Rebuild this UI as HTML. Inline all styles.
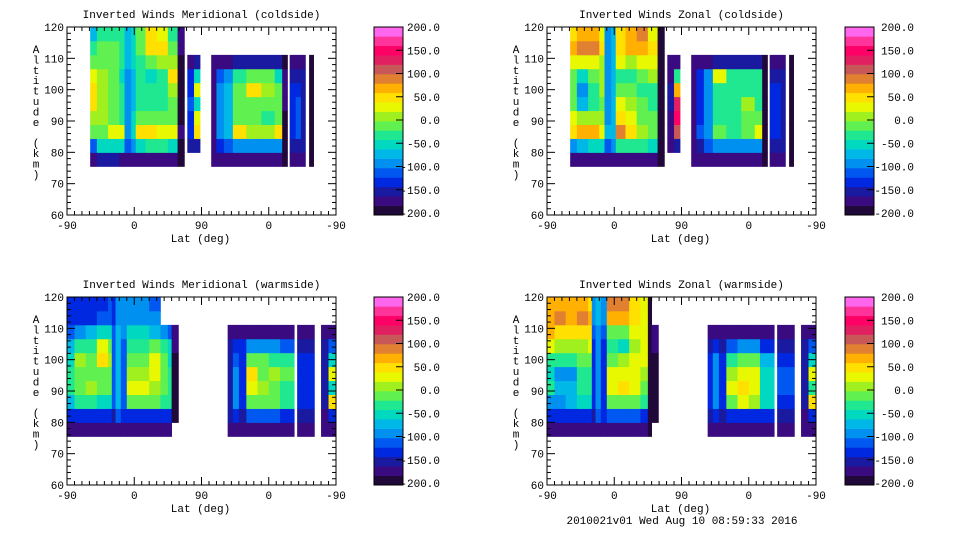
<!DOCTYPE html>
<html><head><meta charset="utf-8">
<style>
html,body{margin:0;padding:0;background:#fff;}
svg{display:block;}
text{font-family:"Liberation Mono","DejaVu Sans Mono",monospace;font-size:11px;fill:#000;}
</style></head>
<body>
<svg id="fig" width="960" height="540" viewBox="0 0 960 540" xmlns="http://www.w3.org/2000/svg">
<text x="682" y="524" text-anchor="middle">2010021v01 Wed Aug 10 08:59:33 2016</text>
</svg>
<script>
// ---- colour scale ----
const levelColors = ["#200838","#3a0a80","#1a1aa0","#0028e0","#0058f0","#0090f0","#00b8e8","#00d8c0","#20e890","#60f050","#a0f020","#e8f800","#ffe000","#ffb000","#e08030","#c85858","#e02060","#ff0066","#ff3399","#ff66ee"];
const colorbarLabels = ["200.0","150.0","100.0","50.0","0.0","-50.0","-100.0","-150.0","-200.0"];
const xTickLabels = ["-90","0","90","0","-90"];
const yTickLabels = ["60","70","80","90","100","110","120"];
const altCenters = [75,80,85,90,95,100,105,110,115,120];

const titles = ["Inverted Winds Meridional (coldside)","Inverted Winds Zonal (coldside)","Inverted Winds Meridional (warmside)","Inverted Winds Zonal (warmside)"];

// column edges (track units 0..360) and values per column (alt 75..120)
const colEdgesTop = [31,40,55,70,77,86,92,105,120,135,148,157,161,170,178,193,200,210,222,240,260,278,288,295,298,306,313,319,324,330];
const N = null;
const merCold = [
[-170,-120,-20,10,40,40,20,-20,-40,-80],
[-160,-60,-10,0,10,10,0,-10,-20,-30],
[-160,-50,30,-10,-10,-20,-20,-10,-20,-30],
[-170,-60,20,-30,-40,-40,-50,-40,-40,-40],
[-180,-120,-100,-90,-90,-90,-90,-80,-80,-80],
[-170,-100,-60,-60,-70,-70,-70,-60,-60,-60],
[-170,-50,40,-20,-30,-40,-40,-30,-20,-10],
[-170,-40,40,-10,-30,-40,-50,-10,40,40],
[-170,-40,30,-10,-30,-30,-30,10,50,30],
[-170,-60,20,-10,-20,10,40,10,-20,-40],
[-190,-190,-180,-190,-190,-190,-190,-190,-180,-180],
[N,N,N,N,N,N,N,N,N,N],
[N,-160,-140,-130,-120,-130,-140,-170,N,N],
[N,-160,40,30,-60,30,-60,-160,N,N],
[N,N,N,N,N,N,N,N,N,N],
[-180,-170,-170,-170,-170,-170,-170,-180,N,N],
[-180,-140,-100,-100,-100,-100,-110,-170,N,N],
[-180,-120,-80,-80,-80,-80,-90,-170,N,N],
[-180,-100,40,-10,-20,-20,-40,-160,N,N],
[-180,-100,10,-20,-10,40,-20,-160,N,N],
[-180,-100,0,-30,-20,0,-20,-160,N,N],
[-180,-100,40,-20,-10,-20,-60,-160,N,N],
[-190,-190,-190,-190,-180,-180,-180,-190,N,N],
[N,N,N,N,N,N,N,N,N,N],
[-180,-150,-140,-140,-140,-140,-150,-180,N,N],
[-180,-150,-120,-120,-120,-130,-150,-180,N,N],
[-180,-160,-160,-150,-150,-150,-160,-180,N,N],
[N,N,N,N,N,N,N,N,N,N],
[-190,-190,-190,-190,-190,-190,-190,-190,N,N]
];
const zonCold = [
[-170,-100,40,20,-20,-20,-10,20,60,40],
[-170,-80,70,0,-80,-90,-60,20,80,60],
[-170,-60,60,10,-40,-40,-20,20,90,60],
[-170,-60,30,0,-10,0,0,10,40,20],
[-180,-120,-80,-90,-90,-90,-90,-90,-90,-90],
[-170,-100,-80,-80,-80,-80,-80,-80,-80,-80],
[-170,-40,80,40,20,-20,-30,20,40,40],
[-170,-40,40,20,0,-20,-30,0,60,60],
[-170,-40,10,-20,-20,-30,-20,20,70,80],
[-170,-60,-20,-20,-30,-30,0,30,40,20],
[-190,-190,-190,-190,-190,-190,-190,-190,-190,-190],
[N,N,N,N,N,N,N,N,N,N],
[N,-180,-170,-170,-160,-160,-170,-180,N,N],
[N,-160,100,150,130,60,-40,-170,N,N],
[N,N,N,N,N,N,N,N,N,N],
[-180,-170,-170,-170,-170,-170,-170,-180,N,N],
[-180,-150,-120,-130,-130,-130,-140,-170,N,N],
[-180,-120,-90,-100,-100,-100,-100,-170,N,N],
[-180,-100,-20,-40,-40,-30,20,-160,N,N],
[-180,-100,-30,-30,-30,-30,-30,-160,N,N],
[-180,-100,-20,-10,0,-30,-30,-160,N,N],
[-180,-100,20,-10,-30,-30,-40,-160,N,N],
[-190,-190,-190,-190,-190,-190,-190,-190,N,N],
[N,N,N,N,N,N,N,N,N,N],
[-180,-150,-140,-140,-140,-140,-150,-180,N,N],
[-180,-160,-140,-140,-140,-140,-160,-180,N,N],
[-180,-160,-160,-160,-160,-160,-160,-180,N,N],
[N,N,N,N,N,N,N,N,N,N],
[-190,-190,-190,-190,-190,-190,-190,-190,N,N]
];
const colEdgesBot = [0,10,25,40,55,60,65,72,80,95,110,125,135,140,149,215,222,230,240,255,270,285,304,308,331,340,350,360];
const merWarm = [
[-180,-140,-80,-40,-40,-60,-80,-120,-140,-140],
[-180,-140,-40,-20,-10,0,-40,-100,-140,-140],
[-180,-130,-40,10,-10,-20,-30,-80,-140,-140],
[-180,-130,-50,-10,-10,40,30,-60,-120,-130],
[-180,-130,-60,-20,-20,10,-20,-60,-110,-120],
[-180,-150,-120,-120,-120,-120,-120,-120,-130,-130],
[-180,-120,-80,-80,-80,-80,-80,-80,-90,-100],
[-180,-140,-120,-120,-120,-120,-120,-100,-100,-100],
[-180,-130,-10,20,0,-10,-30,-60,-90,-100],
[-180,-130,-10,30,10,-10,-30,-60,-90,-100],
[-180,-130,-20,0,20,30,-20,-70,-100,-110],
[-180,-130,-30,-20,-20,-20,-40,-90,N,N],
[-180,-140,-40,-40,-40,-50,-60,-120,N,N],
[N,-190,-190,-190,-190,-190,-180,-180,N,N],
[N,N,N,N,N,N,N,N,N,N],
[-180,-160,-150,-150,-150,-150,-160,-180,N,N],
[-180,-140,-100,-100,-100,-110,-140,-180,N,N],
[-180,-150,-130,-130,-130,-130,-140,-180,N,N],
[-180,-120,-10,20,40,-20,-100,-170,N,N],
[-180,-120,-10,0,-10,-20,-100,-170,N,N],
[-180,-120,-20,-10,0,-30,-100,-170,N,N],
[-180,-130,-40,-30,-10,-40,-110,-170,N,N],
[N,N,N,N,N,N,N,N,N,N],
[-180,-160,-140,-130,-130,-130,-150,-180,N,N],
[N,N,N,N,N,N,N,N,N,N],
[-180,-170,-160,-160,-150,-160,-160,-180,N,N],
[-180,-130,40,-60,30,-60,-120,-180,N,N]
];
const zonWarm = [
[-180,-130,-100,-40,-60,-30,20,60,70,60],
[-180,-130,-100,-70,-90,-40,0,50,80,60],
[-180,-130,-80,-70,-90,-40,0,40,70,60],
[-180,-130,-60,-30,-40,-20,0,40,80,60],
[-180,-130,-60,-30,-30,-20,20,40,60,50],
[-180,-150,-130,-130,-130,-130,-130,-120,-100,-100],
[-180,-110,-100,-100,-100,-100,-100,-90,-80,-80],
[-180,-140,-130,-130,-130,-130,-130,-110,-100,-100],
[-180,-120,-20,30,30,-10,-40,-20,60,80],
[-180,-120,-20,40,20,0,-60,-20,60,90],
[-180,-120,-20,20,20,20,10,20,40,50],
[-180,-130,-30,-10,10,20,20,30,30,20],
[-190,-190,-190,-190,-190,-190,-190,-190,-190,-190],
[N,-190,-190,-190,-190,-190,-180,-180,N,N],
[N,N,N,N,N,N,N,N,N,N],
[-180,-160,-140,-140,-140,-140,-150,-180,N,N],
[-180,-130,-100,-100,-100,-100,-130,-180,N,N],
[-180,-150,-140,-140,-140,-140,-150,-180,N,N],
[-180,-130,-10,20,10,-30,-110,-170,N,N],
[-180,-130,20,50,30,-20,-100,-170,N,N],
[-180,-130,10,30,20,-20,-100,-170,N,N],
[-180,-140,-60,-60,-60,-70,-130,-180,N,N],
[N,N,N,N,N,N,N,N,N,N],
[-180,-160,-130,-120,-120,-130,-150,-180,N,N],
[N,N,N,N,N,N,N,N,N,N],
[-180,-170,-160,-150,-150,-160,-160,-180,N,N],
[-180,-130,40,-40,20,-60,-120,-180,N,N]
];

const NS = "http://www.w3.org/2000/svg";
const svg = document.getElementById('fig');
function mk(tag, attrs, parent){const e=document.createElementNS(NS,tag);for(const k in attrs)e.setAttribute(k,attrs[k]);(parent||svg).appendChild(e);return e;}
function colorFor(v){let i=Math.floor((v+200)/20);i=Math.max(0,Math.min(levelColors.length-1,i));return levelColors[i];}

const panels = [
 {ox:67, oy:27, cb:374, lblR:440, edges:colEdgesTop, vals:merCold, name:'meridional-coldside'},
 {ox:547,oy:27, cb:845, lblR:914, edges:colEdgesTop, vals:zonCold, name:'zonal-coldside'},
 {ox:67, oy:297,cb:374, lblR:440, edges:colEdgesBot, vals:merWarm, name:'meridional-warmside'},
 {ox:547,oy:297,cb:845, lblR:914, edges:colEdgesBot, vals:zonWarm, name:'zonal-warmside'}
];
const W=269, H=188;
// row r spans from rowAlt(r) to rowAlt(r+1)
const altLo = 75.5, altHi = 120;
function rowAlt(r){return altLo + r*(altHi-altLo)/altCenters.length;}

panels.forEach((p,pi)=>{
  const g = mk('g',{});
  
  
  const xs = d => p.ox + d*W/360;
  const ys = a => p.oy + H - (a-60)*H/60;
  const t = mk('text',{x:p.ox+W/2,y:p.oy-9,'text-anchor':'middle'},g);
  t.textContent = titles[pi];
  
  
  const cells = mk('g',{},g);
  
  
  for(let c=0;c<p.vals.length;c++){
    const x0=xs(p.edges[c]), x1=xs(p.edges[c+1]);
    for(let r=0;r<altCenters.length;r++){
      const v=p.vals[c][r]; if(v===null) continue;
      const a0=rowAlt(r), a1=rowAlt(r+1);
      const rc = mk('rect',{x:x0,y:ys(a1),width:x1-x0+0.4,height:ys(a0)-ys(a1)+0.4,fill:colorFor(v)},cells);
      
      
    }
  }
  const box = mk('rect',{x:p.ox,y:p.oy,width:W,height:H,fill:'none',stroke:'#000','stroke-width':1},g);
  
  
  xTickLabels.forEach((lab,i)=>{
    const x=xs(i*90);
    mk('line',{x1:x,y1:p.oy+H,x2:x,y2:p.oy+H-8,stroke:'#000'},g);
    mk('line',{x1:x,y1:p.oy,x2:x,y2:p.oy+8,stroke:'#000'},g);
    const tl=mk('text',{x:x,y:p.oy+H+14,'text-anchor':'middle'},g);
    tl.textContent=lab;
    
    
  });
  for(let d=10;d<360;d+=10){ if(d%90===0) continue; const x=xs(d);
    mk('line',{x1:x,y1:p.oy+H,x2:x,y2:p.oy+H-4,stroke:'#000'},g);
    mk('line',{x1:x,y1:p.oy,x2:x,y2:p.oy+4,stroke:'#000'},g);}
  yTickLabels.forEach((lab,i)=>{
    const y=ys(60+i*10);
    mk('line',{x1:p.ox,y1:y,x2:p.ox+8,y2:y,stroke:'#000'},g);
    mk('line',{x1:p.ox+W,y1:y,x2:p.ox+W-8,y2:y,stroke:'#000'},g);
    const tl=mk('text',{x:p.ox-3,y:y+4,'text-anchor':'end'},g);
    tl.textContent=lab;
    
    
  });
  for(let a=62;a<120;a+=2){ if(a%10===0) continue; const y=ys(a);
    mk('line',{x1:p.ox,y1:y,x2:p.ox+4,y2:y,stroke:'#000'},g);
    mk('line',{x1:p.ox+W,y1:y,x2:p.ox+W-4,y2:y,stroke:'#000'},g);}
  const xt=mk('text',{x:p.ox+W/2-1,y:p.oy+H+27,'text-anchor':'middle'},g);
  xt.textContent='Lat (deg)';
  
  
  const yt=mk('text',{'text-anchor':'middle'},g);
  
  
  'Altitude (km)'.split('').forEach((ch,i)=>{const ts=mk('tspan',{x:p.ox-31,y:p.oy+26+i*10.4},yt);ts.textContent=ch;});
  const cbg=mk('g',{},g);
  
  
  const bh=H/levelColors.length;
  levelColors.forEach((c,i)=>{
    const r=mk('rect',{x:p.cb,y:p.oy+H-(i+1)*bh,width:29,height:bh+0.3,fill:c},cbg);
    
    
  });
  mk('rect',{x:p.cb,y:p.oy,width:29,height:H,fill:'none',stroke:'#000'},cbg);
  colorbarLabels.forEach((lab,i)=>{
    const y=p.oy+i*(H-2)/(colorbarLabels.length-1);
    if(i>0&&i<colorbarLabels.length-1) mk('line',{x1:p.cb+22,y1:y,x2:p.cb+29,y2:y,stroke:'#000'},cbg);
    const tl=mk('text',{x:p.lblR,y:y+4,'text-anchor':'end'},cbg);
    tl.textContent=lab;
    
    
  });
});
</script>
</body></html>
